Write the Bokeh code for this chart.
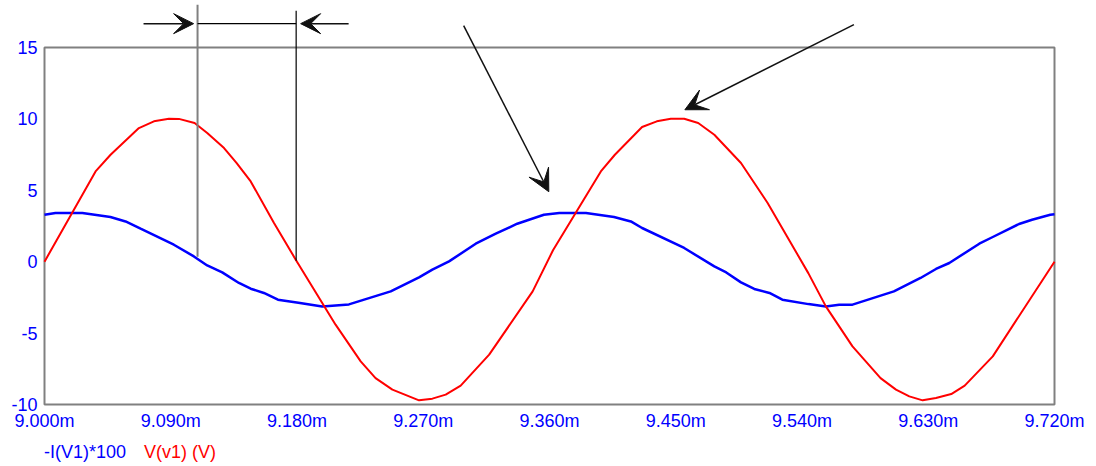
from bokeh.plotting import figure
from bokeh.models import Arrow, VeeHead, FixedTicker, PrintfTickFormatter, Range1d, Div
from bokeh.layouts import column
from bokeh.embed import file_html
from bokeh.resources import INLINE

# ---- data (time in ms) ----
t_red = [9.000, 9.0364, 9.0471, 9.0673, 9.078, 9.0887, 9.0958, 9.107, 9.116, 9.128, 9.137,
         9.147, 9.1636, 9.179, 9.2075, 9.2254, 9.236, 9.248, 9.267, 9.2765, 9.286, 9.2967,
         9.317, 9.348, 9.3625, 9.3966, 9.4066, 9.426, 9.4365, 9.4465, 9.456, 9.466, 9.4775,
         9.4965, 9.5155, 9.5445, 9.557, 9.576, 9.596, 9.607, 9.6165, 9.626, 9.6355, 9.6464,
         9.656, 9.676, 9.720]
v_red = [0.0, 6.32, 7.49, 9.36, 9.83, 10.01, 10.0, 9.71, 9.01, 7.96, 6.91,
         5.62, 2.71, 0.16, -4.41, -6.98, -8.15, -8.96, -9.71, -9.59, -9.31, -8.68,
         -6.51, -2.08, 0.8, 6.32, 7.49, 9.43, 9.83, 10.01, 10.01, 9.71, 8.89,
         6.91, 4.11, -0.8, -3.13, -5.93, -8.15, -8.96, -9.43, -9.71, -9.55, -9.27,
         -8.68, -6.63, 0.0]

t_blue = [9.000, 9.0078, 9.027, 9.047, 9.0578, 9.0685, 9.0922, 9.1065, 9.116, 9.1267, 9.1386,
          9.147, 9.1564, 9.1664, 9.181, 9.198, 9.217, 9.2468, 9.267, 9.2765, 9.2884, 9.3074,
          9.3217, 9.337, 9.356, 9.367, 9.386, 9.406, 9.418, 9.426, 9.456, 9.4775, 9.486,
          9.4965, 9.506, 9.5168, 9.526, 9.5446, 9.557, 9.5665, 9.576, 9.6055, 9.6245, 9.6355,
          9.645, 9.6664, 9.676, 9.6947, 9.704, 9.717, 9.720]
i_blue = [3.29, 3.41, 3.41, 3.13, 2.82, 2.31, 1.19, 0.37, -0.26, -0.75, -1.49,
          -1.89, -2.19, -2.66, -2.87, -3.13, -2.99, -2.08, -1.10, -0.56, 0.02, 1.26,
          1.96, 2.66, 3.29, 3.41, 3.41, 3.13, 2.82, 2.36, 0.96, -0.33, -0.75,
          -1.45, -1.91, -2.19, -2.66, -2.97, -3.13, -3.01, -3.01, -2.08, -1.14, -0.51,
          -0.09, 1.26, 1.73, 2.64, 2.94, 3.29, 3.33]

x_ticks = [9.000, 9.090, 9.180, 9.270, 9.360, 9.450, 9.540, 9.630, 9.720]
y_ticks = [-10, -5, 0, 5, 10, 15]
series_names = ["-I(V1)*100", "V(v1) (V)"]

# cursor / annotation positions (data units)
cursor_a = [9.1091, 18.0, 0.35]   # x, top, bottom
cursor_b = [9.1794, 17.58, 0.07]
bracket_y = 16.67
arrow_in_left = [9.0706, 9.1063]
arrow_in_right = [9.2168, 9.1826]
arrow_1 = [9.2988, 16.53, 9.3595, 4.90]
arrow_2 = [9.577, 16.6, 9.4565, 10.64]

FONT = "Liberation Sans"
BLUE = "#0000ff"
RED = "#ff0000"
GREY = "#808080"

dx = (x_ticks[-1] - x_ticks[0]) / 1010.0
py = 357.0 / (y_ticks[-1] - y_ticks[0])
x_range = Range1d(x_ticks[0] - 2 * dx, x_ticks[-1] + 2 * dx)
y_range = Range1d(y_ticks[0] - 2 / py, y_ticks[-1] + 47 / py)

p = figure(width=1096, height=436, x_range=x_range, y_range=y_range,
           output_backend="svg", toolbar_location=None,
           min_border_left=42, min_border_right=40, min_border_top=0, min_border_bottom=30)
p.grid.visible = False
p.outline_line_color = None
p.background_fill_color = "white"
p.border_fill_color = "white"

for ax in (p.xaxis[0], p.yaxis[0]):
    ax.axis_line_color = None
    ax.major_tick_line_color = None
    ax.minor_tick_line_color = None
    ax.major_tick_out = 0
    ax.major_tick_in = 0
    ax.minor_tick_out = 0
    ax.major_label_text_color = BLUE
    ax.major_label_text_font = FONT
    ax.major_label_text_font_size = "18px"

p.xaxis.ticker = FixedTicker(ticks=x_ticks)
p.xaxis.formatter = PrintfTickFormatter(format="%.3fm")
p.xaxis.major_label_standoff = 4
p.yaxis.ticker = FixedTicker(ticks=y_ticks)
p.yaxis.major_label_overrides = {t: str(t) for t in y_ticks}
p.yaxis.major_label_standoff = 5

# plot box
p.quad(left=[x_ticks[0]], right=[x_ticks[-1]], bottom=[y_ticks[0]], top=[y_ticks[-1]],
       fill_color=None, line_color=GREY, line_width=2)

p.line(t_blue, i_blue, line_color=BLUE, line_width=2.5)
p.line(t_red, v_red, line_color=RED, line_width=2)

# cursors
p.add_layout(Arrow(end=None, x_start=cursor_a[0], y_start=cursor_a[1], x_end=cursor_a[0], y_end=cursor_a[2],
                   line_color=GREY, line_width=2))
p.add_layout(Arrow(end=None, x_start=cursor_b[0], y_start=cursor_b[1], x_end=cursor_b[0], y_end=cursor_b[2],
                   line_color="#000000", line_width=1.2))
p.add_layout(Arrow(end=None, x_start=cursor_a[0], y_start=bracket_y, x_end=cursor_b[0], y_end=bracket_y,
                   line_color="#000000", line_width=1.2))
for xs, xe in (arrow_in_left, arrow_in_right):
    p.add_layout(Arrow(end=VeeHead(size=20, fill_color="#111111", line_color="#111111"),
                       x_start=xs, y_start=bracket_y, x_end=xe, y_end=bracket_y,
                       line_color="#111111", line_width=1.5))
for a in (arrow_1, arrow_2):
    p.add_layout(Arrow(end=VeeHead(size=22, fill_color="#111111", line_color="#111111"),
                       x_start=a[0], y_start=a[1], x_end=a[2], y_end=a[3],
                       line_color="#111111", line_width=1.5))

# legend texts
legend_html = (
    f'<span style="color:{BLUE}">{series_names[0]}</span>'
    f'<span style="color:{RED}; margin-left:18px">{series_names[1]}</span>'
)
legend = Div(text=legend_html, width=1096, height=30, margin=0,
             styles={"font-family": FONT, "font-size": "18px", "padding-left": "44px",
                     "padding-top": "6px", "line-height": "20px", "white-space": "nowrap"})

layout = column(p, legend, spacing=0)
open("out.html", "w").write(file_html(layout, INLINE))
